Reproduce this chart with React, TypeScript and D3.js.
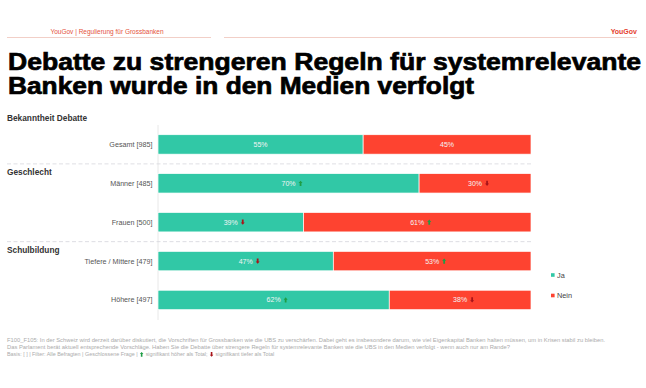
import React, { useEffect, useRef } from "react";
import * as d3 from "d3";

const categories = ["Gesamt [985]", "Männer [485]", "Frauen [500]", "Tiefere / Mittere [479]", "Höhere [497]"];
const jaValues = [55, 70, 39, 47, 62];
const neinValues = [45, 30, 61, 53, 38];
// +1 = significantly higher than total, -1 = significantly lower, 0 = none
const jaSignificance = [0, 1, -1, -1, 1];
const neinSignificance = [0, -1, 1, 1, -1];
const groupTitles = ["Bekanntheit Debatte", "Geschlecht", "Schulbildung"];
const groupStarts = [0, 1, 3];
const seriesNames = ["Ja", "Nein"];
const titleLines = ["Debatte zu strengeren Regeln für systemrelevante", "Banken wurde in den Medien verfolgt"];
const headerText = "YouGov | Regulierung für Grossbanken";
const brandText = "YouGov";
const footerLines = [
  "F100_F105: In der Schweiz wird derzeit darüber diskutiert, die Vorschriften für Grossbanken wie die UBS zu verschärfen. Dabei geht es insbesondere darum, wie viel Eigenkapital Banken halten müssen, um in Krisen stabil zu bleiben.",
  "Das Parlament berät aktuell entsprechende Vorschläge. Haben Sie die Debatte über strengere Regeln für systemrelevante Banken wie die UBS in den Medien verfolgt - wenn auch nur am Rande?",
];
const footerBasis = ["Basis: [ ] | Filter: Alle Befragten | Geschlossene Frage | ", " signifikant höher als Total; ", " signifikant tiefer als Total"];

const W = 646;
const H = 388;
const TEAL = "#31c8a6";
const RED = "#fe4330";
const UP = "#1f9d45";
const DOWN = "#a8141a";
const FONT = "'Liberation Sans', Arial, Helvetica, sans-serif";

function arrowPath(cx: number, cy: number, dir: number, w = 4, h = 5.2) {
  const s = dir > 0 ? 1 : -1;
  const tip = cy - s * h / 2;
  const base = cy + s * h / 2;
  const mid = cy - s * 0.3;
  return `M${cx},${tip} L${cx + w / 2},${mid} L${cx + w / 4.5},${mid} L${cx + w / 4.5},${base} L${cx - w / 4.5},${base} L${cx - w / 4.5},${mid} L${cx - w / 2},${mid} Z`;
}

export default function App() {
  const ref = useRef<SVGSVGElement | null>(null);

  useEffect(() => {
    const svg = d3.select(ref.current);
    svg.selectAll("*").remove();
    svg.append("rect").attr("width", W).attr("height", H).attr("fill", "#fff");

    // header
    svg.append("text").attr("x", 107).attr("y", 34).attr("text-anchor", "middle")
      .attr("font-family", FONT).attr("font-size", 6.5).attr("fill", "#e5533d").text(headerText);
    svg.append("text").attr("x", 637).attr("y", 34).attr("text-anchor", "end")
      .attr("font-family", FONT).attr("font-weight", "bold").attr("font-size", 7).attr("fill", "#e5402e").text(brandText);
    svg.append("line").attr("x1", 7).attr("x2", 211).attr("y1", 37.5).attr("y2", 37.5).attr("stroke", "#efc3b9").attr("stroke-width", 0.8);
    svg.append("line").attr("x1", 224).attr("x2", 637).attr("y1", 37.5).attr("y2", 37.5).attr("stroke", "#efc3b9").attr("stroke-width", 0.8);

    // title
    const titleWidths = [633, 466];
    titleLines.forEach((t, i) => {
      svg.append("text").attr("x", 8).attr("y", 69.5 + i * 24)
        .attr("font-family", FONT).attr("font-weight", "bold").attr("font-size", 24)
        .attr("fill", "#000").attr("stroke", "#000").attr("stroke-width", 0.7)
        .attr("textLength", titleWidths[i]).attr("lengthAdjust", "spacingAndGlyphs").text(t);
    });

    const x = d3.scaleLinear().domain([0, 100]).range([158, 531]);
    const y = d3.scaleBand<string>().domain(categories).range([125, 319.4]).paddingInner(0.5).paddingOuter(0.25);
    const bw = y.bandwidth();

    // vertical axis line
    svg.append("line").attr("x1", x(0)).attr("x2", x(0)).attr("y1", 125).attr("y2", 320)
      .attr("stroke", "#e2e2e2").attr("stroke-width", 0.8);

    // group separators and titles
    groupStarts.forEach((start, gi) => {
      let baseline;
      if (start > 0) {
        const prev = y(categories[start - 1])! + bw;
        const next = y(categories[start])!;
        const sy = (prev + next) / 2;
        svg.append("line").attr("x1", 7).attr("x2", x(100)).attr("y1", sy).attr("y2", sy)
          .attr("stroke", "#d6d6dc").attr("stroke-width", 0.8).attr("stroke-dasharray", "4,2.5");
        baseline = sy + 11;
      } else {
        baseline = 120.5;
      }
      svg.append("text").attr("x", 7).attr("y", baseline)
        .attr("font-family", FONT).attr("font-weight", "bold").attr("font-size", 8.3).attr("fill", "#333").text(groupTitles[gi]);
    });

    // category labels
    categories.forEach((c) => {
      svg.append("text").attr("x", 152.5).attr("y", y(c)! + bw / 2).attr("dy", "0.35em")
        .attr("text-anchor", "end").attr("font-family", FONT).attr("font-size", 7.2).attr("fill", "#555").text(c);
    });

    // stacked bars
    const rows = categories.map((c, i) => ({
      c,
      segs: [
        { x0: 0, x1: jaValues[i], v: jaValues[i], sig: jaSignificance[i], color: TEAL },
        { x0: jaValues[i], x1: jaValues[i] + neinValues[i], v: neinValues[i], sig: neinSignificance[i], color: RED },
      ],
    }));
    rows.forEach((r) => {
      const yy = y(r.c)!;
      r.segs.forEach((s) => {
        svg.append("rect").attr("x", x(s.x0)).attr("y", yy).attr("width", x(s.x1) - x(s.x0)).attr("height", bw)
          .attr("fill", s.color).attr("stroke", "#fff").attr("stroke-width", 0.7);
        const cx = (x(s.x0) + x(s.x1)) / 2;
        const cy = yy + bw / 2;
        const label = svg.append("text").attr("x", cx).attr("y", cy).attr("dy", "0.35em").attr("text-anchor", "middle")
          .attr("font-family", FONT).attr("font-size", 7).attr("fill", "#f4f4f4").text(`${s.v}%`);
        if (s.sig !== 0) {
          const tw = (label.node() as SVGTextElement).getComputedTextLength();
          svg.append("path").attr("d", arrowPath(cx + tw / 2 + 5, cy, s.sig))
            .attr("fill", s.sig > 0 ? UP : DOWN);
        }
      });
    });

    // legend
    seriesNames.forEach((n, i) => {
      const ly = 275 + i * 20.5;
      svg.append("rect").attr("x", 551).attr("y", ly - 1.8).attr("width", 3.6).attr("height", 3.6).attr("fill", i === 0 ? TEAL : RED);
      svg.append("text").attr("x", 557).attr("y", ly).attr("dy", "0.35em")
        .attr("font-family", FONT).attr("font-size", 7.3).attr("fill", "#444").text(n);
    });

    // footer
    const footerWidths = [598, 503];
    footerLines.forEach((t, i) => {
      svg.append("text").attr("x", 7).attr("y", 341.6 + i * 7.3)
        .attr("font-family", FONT).attr("font-size", 5.4).attr("fill", "#ababab")
        .attr("textLength", footerWidths[i]).attr("lengthAdjust", "spacingAndGlyphs").text(t);
    });
    let fx = 7;
    const fy = 341.6 + 2 * 7.3;
    footerBasis.forEach((t, i) => {
      if (i > 0) {
        svg.append("path").attr("d", arrowPath(fx + 2.5, fy - 1.8, i === 1 ? 1 : -1, 3.6, 4.6)).attr("fill", i === 1 ? UP : DOWN);
        fx += 5;
      }
      const el = svg.append("text").attr("x", fx).attr("y", fy).attr("xml:space", "preserve")
        .style("white-space", "pre")
        .attr("font-family", FONT).attr("font-size", 5.4).attr("fill", "#ababab").text(t);
      fx += (el.node() as SVGTextElement).getComputedTextLength();
    });
  }, []);

  return (
    <svg ref={ref} width={W} height={H} style={{ display: "block", position: "absolute", left: 0, top: 0 }} />
  );
}
